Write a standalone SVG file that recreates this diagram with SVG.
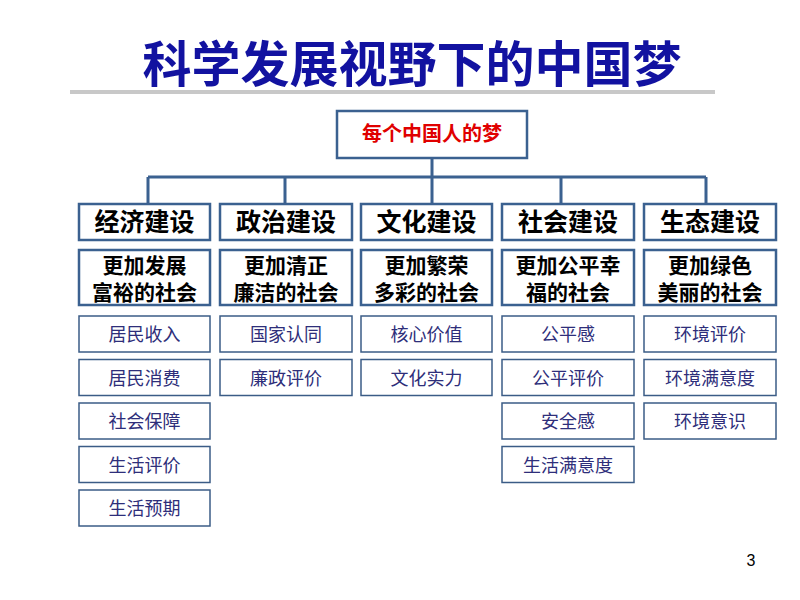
<svg xmlns="http://www.w3.org/2000/svg" width="800" height="600" viewBox="0 0 800 600">
<style>
text{font-family:"Liberation Sans","Noto Sans CJK SC",sans-serif;text-anchor:middle}
.title{font-size:49px;font-weight:bold;fill:#1212a0}
.root rect{fill:#fff;stroke:#3b6190;stroke-width:2.5}
.root text{font-size:20px;font-weight:bold;fill:#e00000}
.l1 rect{fill:#fff;stroke:#3b6190;stroke-width:2.5}
.l1 text{font-size:25px;font-weight:bold;fill:#000}
.l2 rect{fill:#fff;stroke:#3b6190;stroke-width:2.5}
.l2 text{font-size:21px;font-weight:bold;fill:#000}
.l3 rect{fill:#fff;stroke:#3b5c86;stroke-width:1.5}
.l3 text{font-size:18px;fill:#2e2e7a}
.conn{fill:none;stroke:#3b6190;stroke-width:3}
</style>
<rect width="800" height="600" fill="#fff"/>
<text class="title" x="412" y="82">科学发展视野下的中国梦</text>
<rect x="70" y="90" width="645" height="4" fill="#c8c8c8"/>

<g id="connectors" class="conn">
<path d="M432 158V177M148 177H706M148 177V204M285 177V204M432 177V204M561 177V204M706 177V204"/>
</g>

<g id="root" class="root"><rect x="337" y="111" width="190" height="47"/><text x="432" y="141">每个中国人的梦</text></g>

<g id="econ" class="l1"><rect x="79" y="204" width="131" height="36"/><text x="144.5" y="231">经济建设</text></g>
<g id="poli" class="l1"><rect x="220" y="204" width="132" height="36"/><text x="286" y="231">政治建设</text></g>
<g id="cult" class="l1"><rect x="361" y="204" width="131" height="36"/><text x="426.5" y="231">文化建设</text></g>
<g id="soc" class="l1"><rect x="502" y="204" width="132" height="36"/><text x="568" y="231">社会建设</text></g>
<g id="eco" class="l1"><rect x="644" y="204" width="132" height="36"/><text x="710" y="231">生态建设</text></g>

<g id="econ-goal" class="l2"><rect x="79" y="250" width="131" height="55"/><text x="144.5" y="273">更加发展</text><text x="144.5" y="300">富裕的社会</text></g>
<g id="poli-goal" class="l2"><rect x="220" y="250" width="132" height="55"/><text x="286" y="273">更加清正</text><text x="286" y="300">廉洁的社会</text></g>
<g id="cult-goal" class="l2"><rect x="361" y="250" width="131" height="55"/><text x="426.5" y="273">更加繁荣</text><text x="426.5" y="300">多彩的社会</text></g>
<g id="soc-goal" class="l2"><rect x="502" y="250" width="132" height="55"/><text x="568" y="273">更加公平幸</text><text x="568" y="300">福的社会</text></g>
<g id="eco-goal" class="l2"><rect x="644" y="250" width="132" height="55"/><text x="710" y="273">更加绿色</text><text x="710" y="300">美丽的社会</text></g>

<g id="e1" class="l3"><rect x="79" y="316" width="131" height="36"/><text x="144.5" y="341">居民收入</text></g>
<g id="e2" class="l3"><rect x="79" y="359.5" width="131" height="36"/><text x="144.5" y="384.5">居民消费</text></g>
<g id="e3" class="l3"><rect x="79" y="403" width="131" height="36"/><text x="144.5" y="428">社会保障</text></g>
<g id="e4" class="l3"><rect x="79" y="446.5" width="131" height="36"/><text x="144.5" y="471.5">生活评价</text></g>
<g id="e5" class="l3"><rect x="79" y="490" width="131" height="36"/><text x="144.5" y="515">生活预期</text></g>

<g id="p1" class="l3"><rect x="220" y="316" width="132" height="36"/><text x="286" y="341">国家认同</text></g>
<g id="p2" class="l3"><rect x="220" y="359.5" width="132" height="36"/><text x="286" y="384.5">廉政评价</text></g>

<g id="c1" class="l3"><rect x="361" y="316" width="131" height="36"/><text x="426.5" y="341">核心价值</text></g>
<g id="c2" class="l3"><rect x="361" y="359.5" width="131" height="36"/><text x="426.5" y="384.5">文化实力</text></g>

<g id="s1" class="l3"><rect x="502" y="316" width="132" height="36"/><text x="568" y="341">公平感</text></g>
<g id="s2" class="l3"><rect x="502" y="359.5" width="132" height="36"/><text x="568" y="384.5">公平评价</text></g>
<g id="s3" class="l3"><rect x="502" y="403" width="132" height="36"/><text x="568" y="428">安全感</text></g>
<g id="s4" class="l3"><rect x="502" y="446.5" width="132" height="36"/><text x="568" y="471.5">生活满意度</text></g>

<g id="g1" class="l3"><rect x="644" y="316" width="132" height="36"/><text x="710" y="341">环境评价</text></g>
<g id="g2" class="l3"><rect x="644" y="359.5" width="132" height="36"/><text x="710" y="384.5">环境满意度</text></g>
<g id="g3" class="l3"><rect x="644" y="403" width="132" height="36"/><text x="710" y="428">环境意识</text></g>

<text x="751" y="566" style="font-size:16px;fill:#000">3</text>
</svg>
